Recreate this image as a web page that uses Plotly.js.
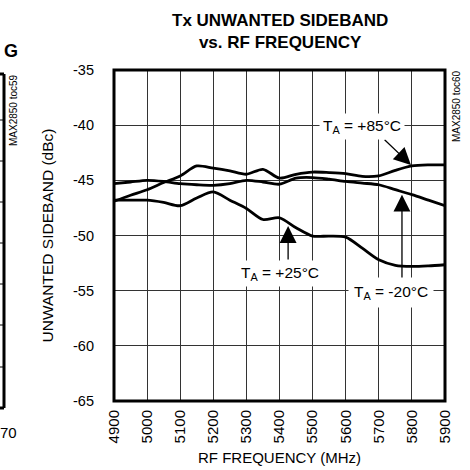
<!DOCTYPE html>
<html>
<head>
<meta charset="utf-8">
<script src="https://cdn.plot.ly/plotly-3.0.1.min.js"></script>
<style>html,body{margin:0;padding:0;background:#fff;}#chart{width:470px;height:470px;}</style>
</head>
<body>
<div id="chart"></div>
<script>
// ---- data ----
var freqMHz = [4900,4950,5000,5050,5100,5150,5200,5250,5300,5350,5400,5450,5500,5550,5600,5650,5700,5750,5800,5850,5900];
var sidebandP85 = [-46.9,-46.35,-45.85,-45.2,-44.6,-43.7,-43.9,-44.15,-44.45,-44.0,-44.8,-44.45,-44.25,-44.3,-44.4,-44.65,-44.6,-44.1,-43.7,-43.6,-43.6];
var sidebandM20 = [-45.3,-45.15,-45.0,-45.1,-45.3,-45.4,-45.45,-45.3,-45.0,-45.15,-45.35,-44.8,-44.75,-44.9,-45.1,-45.25,-45.4,-45.85,-46.3,-46.8,-47.3];
var sidebandP25 = [-46.8,-46.8,-46.8,-47.0,-47.3,-46.6,-46.05,-46.8,-47.55,-48.55,-48.4,-49.3,-50.05,-50.05,-50.15,-51.15,-52.2,-52.7,-52.8,-52.75,-52.65];
var xTickVals = [4900,5000,5100,5200,5300,5400,5500,5600,5700,5800,5900];
var xTickText = ["4900","5000","5100","5200","5300","5400","5500","5600","5700","5800","5900"];
var yTickVals = [-65,-60,-55,-50,-45,-40,-35];
var yTickText = ["-65","-60","-55","-50","-45","-40","-35"];
var labelP85 = "T<sub>A</sub> = +85°C";
var labelP25 = "T<sub>A</sub> = +25°C";
var labelM20 = "T<sub>A</sub> = -20°C";
var chartTitle = "<b>Tx UNWANTED SIDEBAND<br>vs. RF FREQUENCY</b>";

var FONT = "Liberation Sans, Arial, sans-serif";
var lineStyle = {color:"#000", width:2.8, shape:"spline", smoothing:0.8};

var traces = [
  {x:freqMHz, y:sidebandP85, mode:"lines", line:lineStyle, hoverinfo:"skip"},
  {x:freqMHz, y:sidebandM20, mode:"lines", line:lineStyle, hoverinfo:"skip"},
  {x:freqMHz, y:sidebandP25, mode:"lines", line:lineStyle, hoverinfo:"skip"}
];

// paper helpers
var L=114, R=445, T=70, B=401;
function px(v){return (v-L)/(R-L);}
function py(v){return (B-v)/(B-T);}

var shapes = [
  {type:"rect", xref:"paper", yref:"paper", x0:0, x1:1, y0:0, y1:1, line:{color:"#000", width:3}},
  // fragment of the neighbouring chart at the left edge
  {type:"line", xref:"paper", yref:"paper", x0:px(4), x1:px(4), y0:py(74), y1:py(408), line:{color:"#000", width:3}},
  {type:"line", xref:"paper", yref:"paper", x0:px(-5), x1:px(4), y0:py(74), y1:py(74), line:{color:"#000", width:3}},
  {type:"line", xref:"paper", yref:"paper", x0:px(-5), x1:px(4), y0:py(408), y1:py(408), line:{color:"#000", width:3}}
];
[120,161,202,243,284,325,367].forEach(function(v){
  shapes.push({type:"line", xref:"paper", yref:"paper", x0:px(-5), x1:px(3), y0:py(v), y1:py(v), line:{color:"#000", width:1}});
});

var annFont = {family:FONT, size:15.5, color:"#000"};
function arrow(hx, hy, tx, ty){
  return {x:hx, y:hy, ax:tx, ay:ty, xref:"x", yref:"y", axref:"x", ayref:"y", text:"", showarrow:true,
          arrowhead:2, arrowsize:2.6, arrowwidth:1.3, arrowcolor:"#000", standoff:0};
}
function label(x, y, txt, pad){
  return {x:x, y:y, xref:"x", yref:"y", xanchor:"center", yanchor:"middle", text:txt, showarrow:false,
          bgcolor:"#fff", borderpad:pad, font:annFont};
}
function note(xp, yp, txt, size, angle){
  return {x:px(xp), y:py(yp), xref:"paper", yref:"paper", xanchor:"center", yanchor:"middle",
          text:txt, textangle:angle||0, showarrow:false, font:{family:FONT, size:size, color:"#000"}};
}
var annotations = [
  arrow(5797, -43.6, 5713, -41.2),
  arrow(5426, -49.15, 5426, -52.3),
  arrow(5770, -46.3, 5770, -54.0),
  label(5650, -40.1, labelP85, 3),
  label(5402, -53.4, labelP25, 3),
  label(5737, -55.2, labelM20, 5),
  {x:px(279.5), y:py(31.5), xref:"paper", yref:"paper", xanchor:"center", yanchor:"middle", text:chartTitle,
   showarrow:false, font:{family:FONT, size:17, color:"#000"}},
  note(456, 106, "MAX2850 toc60", 10, -90),
  note(13, 110, "MAX2850 toc59", 10, -90),
  note(10.5, 51.5, "<b>G</b>", 18, 0),
  note(8, 432, "70", 15, 0)
];

var layout = {
  width:470, height:470,
  margin:{l:L, r:470-R, t:T, b:470-B, pad:0},
  paper_bgcolor:"#fff", plot_bgcolor:"#fff",
  showlegend:false,
  font:{family:FONT, size:14, color:"#000"},
  xaxis:{range:[4900,5900], tickvals:xTickVals, ticktext:xTickText, tickangle:-90, showgrid:true, gridcolor:"#333", gridwidth:1,
         zeroline:false, showline:false, ticks:"", ticklabelstandoff:5, tickfont:{family:FONT, size:15, color:"#000"},
         title:{text:"RF FREQUENCY (MHz)", standoff:10, font:{family:FONT, size:15, color:"#000"}}},
  yaxis:{range:[-65,-35], tickvals:yTickVals, ticktext:yTickText, showgrid:true, gridcolor:"#333", gridwidth:1,
         zeroline:false, showline:false, ticks:"", ticklabelstandoff:19, tickfont:{family:FONT, size:14.5, color:"#000"},
         title:{text:"UNWANTED SIDEBAND (dBc)", standoff:15, font:{family:FONT, size:15.5, color:"#000"}}},
  shapes:shapes,
  annotations:annotations
};

Plotly.newPlot("chart", traces, layout, {staticPlot:true, displayModeBar:false});
</script>
</body>
</html>
